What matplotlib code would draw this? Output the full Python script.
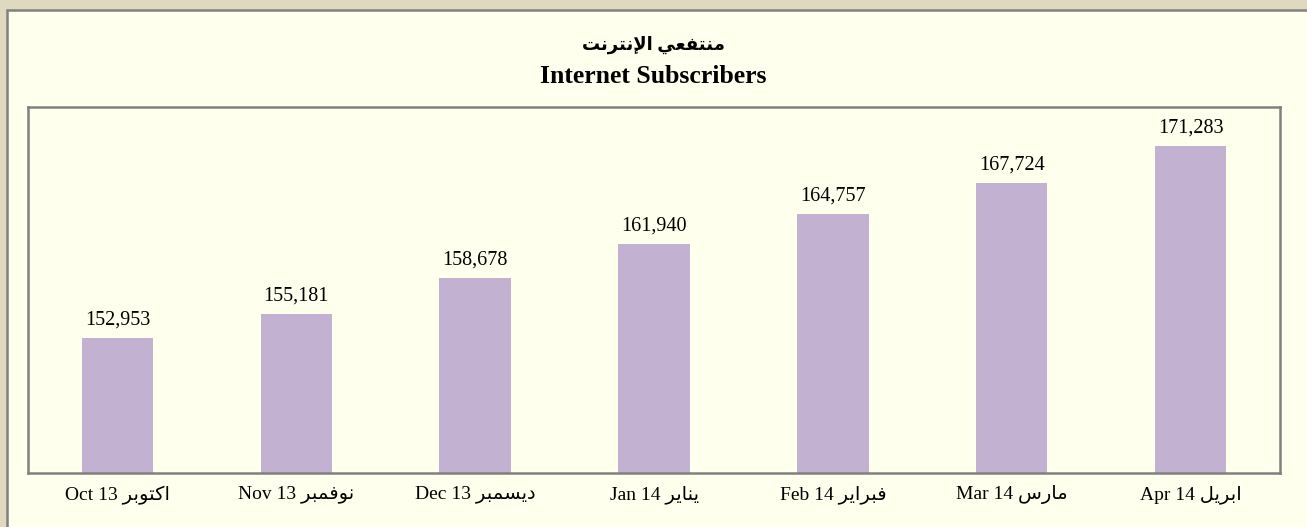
import numpy as np
import matplotlib.pyplot as plt
from matplotlib.patches import Rectangle

# data
months_en = ['Oct 13', 'Nov 13', 'Dec 13', 'Jan 14', 'Feb 14', 'Mar 14', 'Apr 14']
months_ar = ['اكتوبر', 'نوفمبر', 'ديسمبر', 'يناير', 'فبراير', 'مارس', 'ابريل']
subscribers = [152953, 155181, 158678, 161940, 164757, 167724, 171283]
title_ar = 'منتفعي الإنترنت'
title_en = 'Internet Subscribers'

# matplotlib has no arabic shaping, so pick presentation forms by hand
# (isolated, final, initial, medial)
FORMS = {
    'ا': (0xFE8D, 0xFE8E, None, None),
    'إ': (0xFE87, 0xFE88, None, None),
    'ب': (0xFE8F, 0xFE90, 0xFE91, 0xFE92),
    'ت': (0xFE95, 0xFE96, 0xFE97, 0xFE98),
    'د': (0xFEA9, 0xFEAA, None, None),
    'ر': (0xFEAD, 0xFEAE, None, None),
    'س': (0xFEB1, 0xFEB2, 0xFEB3, 0xFEB4),
    'ع': (0xFEC9, 0xFECA, 0xFECB, 0xFECC),
    'ف': (0xFED1, 0xFED2, 0xFED3, 0xFED4),
    'ك': (0xFED9, 0xFEDA, 0xFEDB, 0xFEDC),
    'ل': (0xFEDD, 0xFEDE, 0xFEDF, 0xFEE0),
    'م': (0xFEE1, 0xFEE2, 0xFEE3, 0xFEE4),
    'ن': (0xFEE5, 0xFEE6, 0xFEE7, 0xFEE8),
    'و': (0xFEED, 0xFEEE, None, None),
    'ي': (0xFEF1, 0xFEF2, 0xFEF3, 0xFEF4),
    '\x01': (0xFEFB, 0xFEFC, None, None),  # lam-alef
    '\x02': (0xFEF9, 0xFEFA, None, None),  # lam-alef hamza below
}


def shape(word):
    word = word.replace('لا', '\x01').replace('لإ', '\x02')
    out = []
    for i, ch in enumerate(word):
        if ch not in FORMS:
            out.append(ch)
            continue
        prev = word[i - 1] if i > 0 else None
        nxt = word[i + 1] if i + 1 < len(word) else None
        jp = prev in FORMS and FORMS[prev][2] is not None
        jn = nxt in FORMS and FORMS[ch][2] is not None
        iso, fin, ini, med = FORMS[ch]
        if jp and jn:
            out.append(chr(med))
        elif jp:
            out.append(chr(fin))
        elif jn:
            out.append(chr(ini))
        else:
            out.append(chr(iso))
    return ''.join(out)


def ar(text):
    # shape each word, then reverse to visual order
    words = [shape(w)[::-1] for w in text.split(' ')]
    return ' '.join(words[::-1])


fonts = ['Liberation Serif', 'DejaVu Sans']
plt.rcParams['font.family'] = fonts

fig = plt.figure(figsize=(13.07, 5.27), dpi=100, facecolor='#DFD9BF')
fig.patches.append(Rectangle((7 / 1307, -0.1), 1.2, 1 - 10 / 527 + 0.1,
                             transform=fig.transFigure, facecolor='#FFFFEE',
                             edgecolor='#808080', linewidth=1.8, zorder=-5))

ax = fig.add_axes([28 / 1307, 54 / 527, 1252 / 1307, 366 / 527])
ax.set_facecolor('#FFFFEE')
x = np.arange(len(subscribers))
ax.bar(x, subscribers, width=0.4, color='#C3B1D2')
ax.set_xlim(-0.5, len(subscribers) - 0.5)
ax.set_ylim(140000, 175000)
ax.set_yticks([])

for xi, v in zip(x, subscribers):
    ax.annotate('{:,}'.format(v), (xi, v), xytext=(0, 6), textcoords='offset points',
                ha='center', va='bottom', fontsize=14.5)

ax.set_xticks(x)
ax.set_xticklabels([e + ' ' + ar(a) for e, a in zip(months_en, months_ar)], fontsize=14)
ax.tick_params(axis='x', length=0, pad=9)

for s in ax.spines.values():
    s.set_color('#808080')
    s.set_linewidth(1.8)

fig.text(0.5, 1 - 45 / 527, ar(title_ar), ha='center', va='center', fontsize=13,
         fontweight='bold')
fig.text(0.5, 1 - 76 / 527, title_en, ha='center', va='center', fontsize=18.5,
         fontweight='bold')

fig.savefig('out.png', dpi=100, facecolor=fig.get_facecolor())
